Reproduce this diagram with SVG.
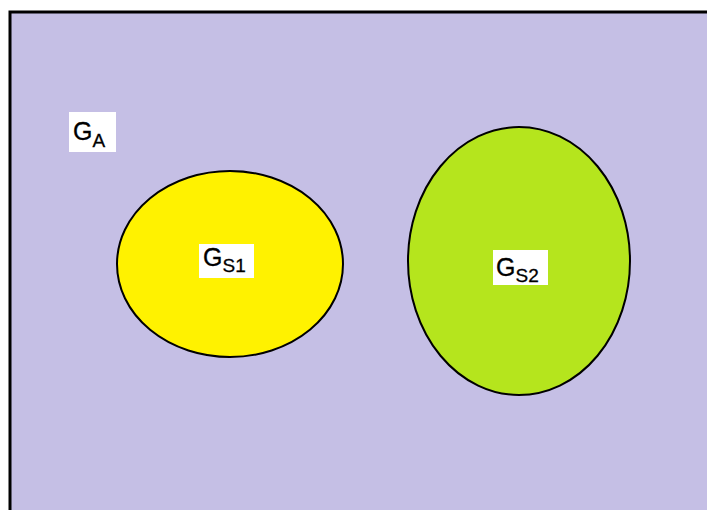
<svg xmlns="http://www.w3.org/2000/svg" width="707" height="510" viewBox="0 0 707 510">
  <style>
    .lbl-bg { fill: #ffffff; }
    .lbl { font-family: "Liberation Sans", Arial, sans-serif; fill: #000000; stroke: #000000; stroke-width: 0.3; }
    .main { font-size: 25px; }
    .sub { font-size: 19px; }
    .set { stroke: #000000; stroke-width: 2; }
  </style>
  <rect x="0" y="0" width="707" height="510" fill="#ffffff"/>
  <g id="universe">
    <rect x="10" y="12" width="710" height="510" fill="#c5bfe5" stroke="#000000" stroke-width="3"/>
    <rect class="lbl-bg" x="69" y="112" width="47" height="40"/>
    <text class="lbl main" x="73" y="140">G<tspan class="sub" dy="7">A</tspan></text>
  </g>
  <g id="gs1">
    <ellipse class="set" cx="230" cy="264" rx="113" ry="93" fill="#fff200"/>
    <rect class="lbl-bg" x="199" y="244" width="55" height="34"/>
    <text class="lbl main" x="203" y="266">G<tspan class="sub" dy="6">S1</tspan></text>
  </g>
  <g id="gs2">
    <ellipse class="set" cx="519" cy="261" rx="111" ry="134" fill="#b5e51d"/>
    <rect class="lbl-bg" x="493" y="250" width="55" height="35"/>
    <text class="lbl main" x="496" y="276">G<tspan class="sub" dy="6">S2</tspan></text>
  </g>
  <g id="connectors"/>
</svg>
